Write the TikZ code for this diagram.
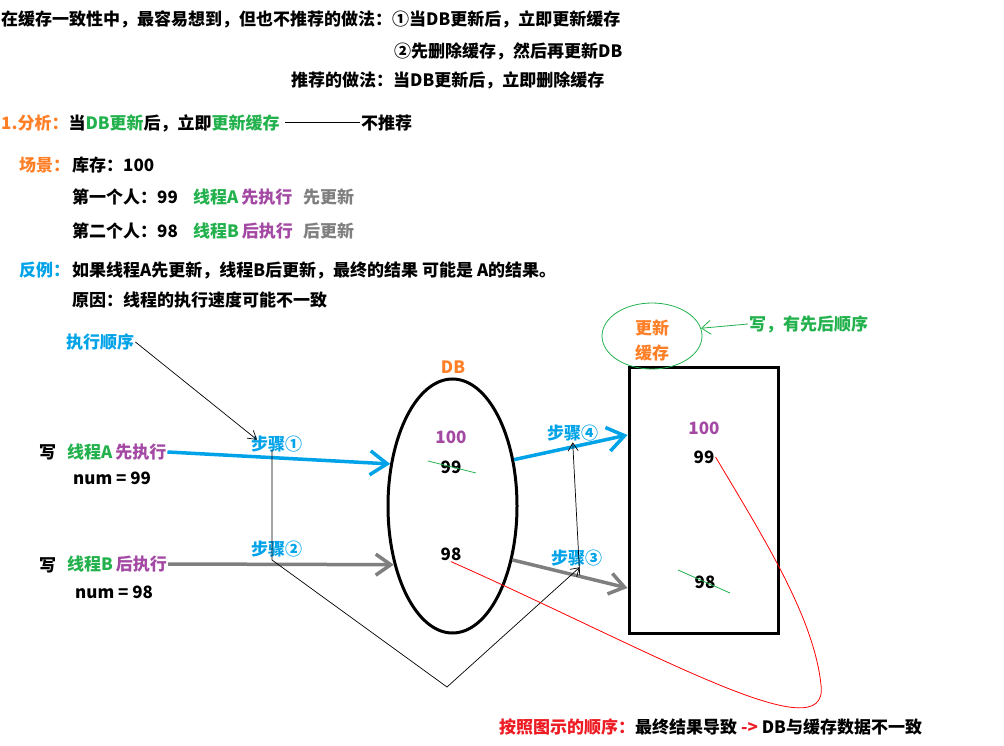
\documentclass[tikz,border=0pt]{standalone}
\usepackage{fontspec}
\setmainfont{Noto Sans CJK SC}
\usetikzlibrary{arrows.meta,shapes.geometric}

\definecolor{orangeT}{RGB}{255,127,39}
\definecolor{greenT}{RGB}{34,177,76}
\definecolor{purpleT}{RGB}{163,73,164}
\definecolor{grayT}{RGB}{127,127,127}
\definecolor{blueT}{RGB}{0,162,232}
\definecolor{redT}{RGB}{237,28,36}

\begin{document}
\begin{tikzpicture}[x=1pt,y=-1pt,
  font=\bfseries\fontsize{17}{25}\selectfont,
  txt/.style={anchor=west,inner sep=1pt},
  val/.style={inner sep=1pt},
  steplbl/.style={txt,text=blueT},
  writeA/.style={draw=blueT,line width=3.5pt,-{Straight Barb[length=17pt,width=24pt]}},
  writeB/.style={draw=grayT,line width=3.5pt,-{Straight Barb[length=15pt,width=21pt]}},
  orderline/.style={draw=black,line width=0.7pt,-{Straight Barb[length=8pt,width=10pt,line width=0.7pt]}},
  strike/.style={draw=greenT,line width=0.8pt}]

\useasboundingbox (0,0) rectangle (1004,746);

\node[txt] (intro) at (0,19) {在缓存一致性中，最容易想到，但也不推荐的做法：①当DB更新后，立即更新缓存};
\node[txt] (way2) at (393,51) {②先删除缓存，然后再更新DB};
\node[txt] (rec) at (290,80) {推荐的做法：当DB更新后，立即删除缓存};

\node[txt] (ana) at (0,123) {\textcolor{orangeT}{1.分析：}当\textcolor{greenT}{DB更新}后，立即\textcolor{greenT}{更新缓存}};
\node[txt] (nrec) at (360,123) {不推荐};
\draw[line width=1pt] ([xshift=4pt]ana.east) -- (nrec.west);

\node[txt,text=orangeT] (scene) at (18,165) {场景：};
\node[txt] (stock) at (71,165) {库存：100};
\node[txt] (first) at (71,197) {第一个人：99};
\node[txt] (firstth) at (192,197) {\textcolor{greenT}{线程A}\,\textcolor{purpleT}{先执行}};
\node[txt,text=grayT] (firstup) at (302,197) {先更新};
\node[txt] (second) at (71,231) {第二个人：98};
\node[txt] (secondth) at (192,231) {\textcolor{greenT}{线程B}\,\textcolor{purpleT}{后执行}};
\node[txt,text=grayT] (secondup) at (302,231) {后更新};

\node[txt,text=blueT] (counter) at (18,270) {反例：};
\node[txt] (cex) at (71,270) {如果线程A先更新，线程B后更新，最终的结果 可能是 A的结果。};
\node[txt] (cause) at (71,300) {原因：线程的执行速度可能不一致};

% database and cache
\node[ellipse,draw,line width=3pt,minimum width=129,minimum height=254,inner sep=0] (db) at (452.5,506) {};
\node[val,text=orangeT] (dblbl) at (453,367) {DB};
\node[val,text=purpleT] (d100) at (451,437) {100};
\node[val] (d99) at (451,467) {99};
\node[val] (d98) at (451,554) {98};
\draw[strike] ([shift={(-23,-6)}]d99.center) -- ([shift={(25,6)}]d99.center);

\node[draw,line width=3pt,minimum width=149,minimum height=266,inner sep=0] (cache) at (703.5,500) {};
\node[val,text=purpleT] (c100) at (704,428) {100};
\node[val] (c99) at (704,457) {99};
\node[val] (c98) at (705,582) {98};
\draw[strike] ([shift={(-27,-12)}]c98.center) -- ([shift={(25,11)}]c98.center);

\node[ellipse,draw=greenT,line width=0.8pt,minimum width=100,minimum height=66,inner sep=0] (upd) at (652,336) {};
\node[val,text=orangeT,align=center] (updlbl) at (652,340) {更新\\缓存};
\node[txt,text=greenT] (wnote) at (748,324) {写，有先后顺序};
\draw[draw=greenT,line width=0.8pt,-{Straight Barb[length=9pt,width=14pt,line width=0.8pt]}] (wnote.west) -- (upd.9);

% threads
\node[txt] (wA) at (38,452) {写};
\node[txt] (thA) at (66,452) {\textcolor{greenT}{线程A}\,\textcolor{purpleT}{先执行}};
\node[txt] (numA) at (72,478) {num = 99};
\node[txt] (wB) at (38,565) {写};
\node[txt] (thB) at (66,564) {\textcolor{greenT}{线程B}\,\textcolor{purpleT}{后执行}};
\node[txt] (numB) at (74,592) {num = 98};

\draw[writeA] (thA.east) -- (db.146);
\draw[writeB] (thB.east) -- (db.225);
\draw[writeA] (db.37) -- ([yshift=65pt]cache.west);
\draw[writeB] (db.318) -- ([yshift=-88pt]cache.west);

% order of the steps
\node[txt,text=blueT] (order) at (65,342) {执行顺序};
\node[steplbl] (step1) at (250,444) {步骤①};
\node[steplbl] (step2) at (250,549) {步骤②};
\node[steplbl] (step3) at (550,558) {步骤③};
\node[steplbl] (step4) at (546,433) {步骤④};

\draw[orderline] (order.east) -- ([shift={(7,5)}]step1.north west);

\coordinate (s1) at (272,450);
\coordinate (s2) at (272,560);
\coordinate (low) at (447,687);
\draw[orderline] (s1) -- (s2) -- (low) -- ([xshift=3pt]step3.south);
\draw[orderline] ([shift={(3,8)}]step3.south) -- (step4.south);

% result
\coordinate (loop) at (821,685);
\draw[draw=red,line width=0.8pt] (d98.south) .. controls (650,650) and (830,755) .. (loop) .. controls (814,618) and (765,540) .. (c99.east);

\node[txt] (result) at (498,727) {\textcolor{redT}{按照图示的顺序：}最终结果导致 \textcolor{redT}{->} DB与缓存数据不一致};

\end{tikzpicture}
\end{document}
